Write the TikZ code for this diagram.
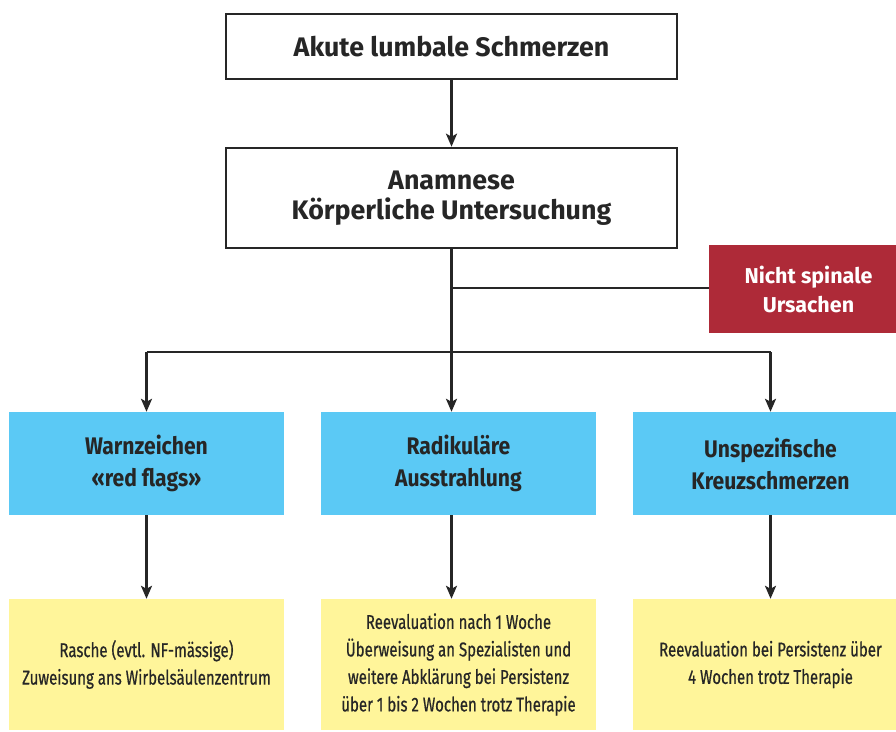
\documentclass[tikz,border=0pt]{standalone}
\usepackage{fontspec}
\setmainfont{Fira Sans}
\newfontfamily\condfont[FakeStretch=0.75, FakeBold=0.6]{Fira Sans}
\newfontfamily\condbfont[FakeStretch=0.88]{Fira Sans}
\usetikzlibrary{arrows.meta}
\definecolor{linec}{HTML}{262626}
\definecolor{bluec}{HTML}{5BC9F5}
\definecolor{yelc}{HTML}{FFF59A}
\definecolor{redc}{HTML}{AE2A38}
\tikzset{
  wbox/.style={draw=linec, line width=2.6pt, fill=white, minimum width=451pt, align=center, text=linec, font=\fontsize{26.8}{30}\selectfont\bfseries},
  bbox/.style={fill=bluec, minimum width=275pt, minimum height=103pt, align=center, text=linec, font=\condbfont\fontsize{24}{32}\selectfont\bfseries},
  ybox/.style={fill=yelc, minimum width=275pt, minimum height=131pt, align=center, text=linec, font=\condfont\fontsize{20}{27.5}\selectfont},
  rbox/.style={fill=redc, minimum width=199pt, minimum height=88pt, align=center, text=white, font=\fontsize{21.5}{29}\selectfont\bfseries},
  conn/.style={draw=linec, line width=2.6pt},
  arr/.style={conn, -{Stealth[length=13pt, width=11pt, inset=3pt]}}
}
\begin{document}
\begin{tikzpicture}[x=1pt, y=-1pt]
\useasboundingbox (0,0) rectangle (896,731);
\clip (0,0) rectangle (896,731);
\node[wbox, minimum height=65pt] (top) at (451.5,46.5) {Akute lumbale Schmerzen};
\node[wbox, minimum height=100pt] (anam) at (451.5,198) {Anamnese\\Körperliche Untersuchung};
\node[rbox] (red) at (808.5,289) {Nicht spinale\\Ursachen};
\node[bbox] (b1) at (146.5,463.5) {Warnzeichen\\«red flags»};
\node[bbox] (b2) at (458.5,463.5) {Radikuläre\\Ausstrahlung};
\node[bbox] (b3) at (770.5,463.5) {Unspezifische\\Kreuzschmerzen};
\node[ybox] (y1) at (146.5,664.5) {Rasche (evtl. NF-mässige)\\Zuweisung ans Wirbelsäulenzentrum};
\node[ybox] (y2) at (458.5,664.5) {Reevaluation nach 1 Woche\\Überweisung an Spezialisten und\\weitere Abklärung bei Persistenz\\über 1 bis 2 Wochen trotz Therapie};
\node[ybox] (y3) at (770.5,664.5) {Reevaluation bei Persistenz über\\4 Wochen trotz Therapie};
\coordinate (split) at (451.5,352);
\coordinate (rjoin) at (451.5,288);
\draw[arr] (top) -- (anam);
\draw[arr] (anam.south) -- (anam.south |- b2.north);
\draw[conn] (rjoin) -- (rjoin -| red.west);
\draw[arr] (b1.north |- split) -- (b1.north);
\draw[arr] (b3.north |- split) -- (b3.north);
\draw[conn] (b1.north |- split) -- (b3.north |- split);
\draw[arr] (b1) -- (y1);
\draw[arr] (b2.south -| anam.south) -- (y2.north -| anam.south);
\draw[arr] (b3) -- (y3);
\end{tikzpicture}
\end{document}
